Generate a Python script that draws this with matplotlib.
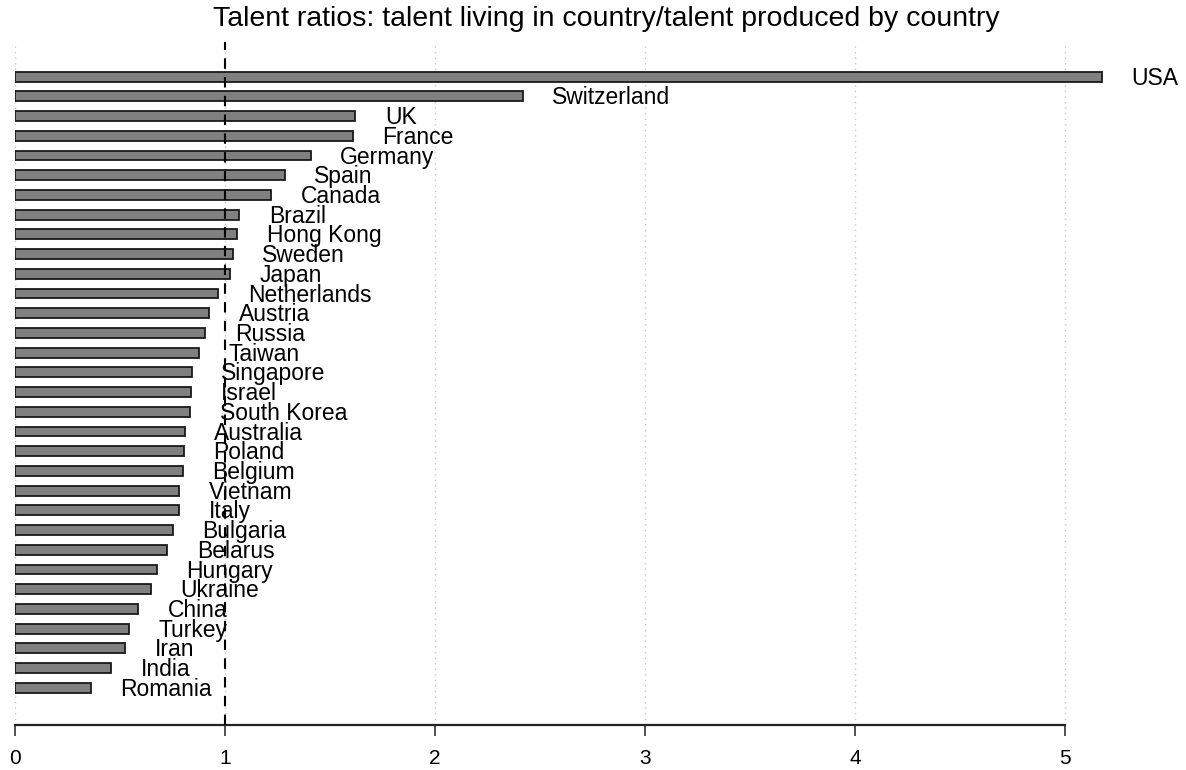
import matplotlib
matplotlib.use("Agg")
import matplotlib.pyplot as plt

countries = ["USA", "Switzerland", "UK", "France", "Germany", "Spain", "Canada",
             "Brazil", "Hong Kong", "Sweden", "Japan", "Netherlands", "Austria",
             "Russia", "Taiwan", "Singapore", "Israel", "South Korea", "Australia",
             "Poland", "Belgium", "Vietnam", "Italy", "Bulgaria", "Belarus",
             "Hungary", "Ukraine", "China", "Turkey", "Iran", "India", "Romania"]
ratios = [5.175, 2.418, 1.621, 1.609, 1.409, 1.285, 1.219,
          1.068, 1.058, 1.037, 1.025, 0.968, 0.926,
          0.906, 0.877, 0.841, 0.839, 0.834, 0.809,
          0.804, 0.799, 0.783, 0.782, 0.753, 0.726,
          0.674, 0.647, 0.586, 0.545, 0.524, 0.459, 0.362]
xticks = [0, 1, 2, 3, 4, 5]
title = "Talent ratios: talent living in country/talent produced by country"

plt.rcParams['font.family'] = ['Liberation Sans', 'DejaVu Sans']

fig = plt.figure(figsize=(11.86, 7.70), dpi=100)
ax = fig.add_axes([15/1186, 1 - 725/770, 1155/1186, (725 - 42)/770])

ypos = list(range(len(countries)))
for x in xticks:
    ax.axvline(x, color='#c8c8c8', linestyle=(0, (1, 3)), linewidth=1.0, zorder=0)

ax.barh(ypos, ratios, height=0.5, color='#808080', edgecolor='#1a1a1a',
        linewidth=1.3, zorder=2)
ax.axvline(1, color='black', linestyle=(0, (5, 4)), linewidth=1.5, zorder=3)

for y, v, name in zip(ypos, ratios, countries):
    ax.text(v + 0.14, y + 0.08, name, fontsize=16.5, va='center', ha='left',
            color='black', zorder=4)

ax.set_xlim(0, 5.5)
ax.set_ylim(len(countries) - 1 + 1.89, -1.76)
ax.set_yticks([])
ax.set_xticks(xticks)
ax.set_xticklabels([str(t) for t in xticks])
ax.tick_params(axis='x', length=8, width=1.2, pad=9, labelsize=15, color='#333333')
for s in ['left', 'right', 'top']:
    ax.spines[s].set_visible(False)
ax.spines['bottom'].set_bounds(0, 5)
ax.spines['bottom'].set_linewidth(1.6)
ax.spines['bottom'].set_color('#222222')

fig.text(606/1186, 1 - 19/770, title, fontsize=20.5, ha='center', va='center')

fig.savefig("out.png", dpi=100)
